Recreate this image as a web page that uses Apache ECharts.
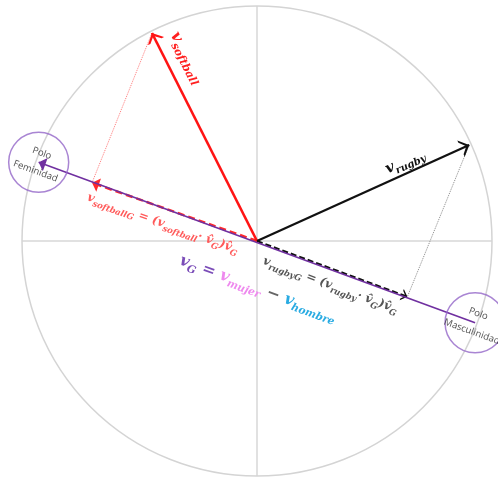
<!DOCTYPE html>
<html><head><meta charset="utf-8">
<script src="https://cdn.jsdelivr.net/npm/echarts@6/dist/echarts.min.js"></script>
<style>html,body{margin:0;padding:0;background:#fff}#c{width:498px;height:479px}</style>
</head><body><div id="c"></div>
<script>
// ---- data (unit circle coordinates) ----
const origin = [0, 0];
const vectorNames = ['softball', 'rugby'];
const vectorTips = [[-0.447, 0.885], [0.903, 0.409]];
const projectionTips = [[-0.702, 0.248], [0.640, -0.237]];
const poleLabels = ['Polo\nFeminidad', 'Polo\nMasculinidad'];
const polePoints = [[-0.929, 0.335], [0.928, -0.348]];
const axisAngles = [0, 90, 180, 270, 360];

// ---- styling ----
const SERIF = 'DejaVu Serif';
const chevron = 'path://M10,10 L20,20 L17,20 L10,13.6 L3,20 L0,20 Z M10,0 L10.1,0.1 L9.9,0.1 Z';
const filledTri = 'path://M10,10 L17,20 L3,20 Z M10,0 L10.1,0.1 L9.9,0.1 Z';

function mainStyle(size, color, extra) {
  return Object.assign({ fontFamily: SERIF, fontStyle: 'italic', fontWeight: 'bold', fontSize: size, lineHeight: size, color: color, verticalAlign: 'top' }, extra || {});
}
function subStyle(size, mainSize, color, extra) {
  return Object.assign({ fontFamily: SERIF, fontStyle: 'italic', fontWeight: 'bold', fontSize: size, lineHeight: size, color: color, verticalAlign: 'top', padding: [Math.round(mainSize * 0.5), 0, 0, 0] }, extra || {});
}
const rich = {
  rv: mainStyle(16, '#ff2020'), rs: subStyle(11, 16, '#ff2020'),
  kv: mainStyle(15, '#111111'), ks: subStyle(10, 15, '#111111'),
  pv: mainStyle(12, '#ff5a5a'), ps: subStyle(8.5, 12, '#ff5a5a'),
  pe: subStyle(8.5, 12, '#ff5a5a', { padding: [6, 14, 0, 0] }),
  qv: mainStyle(12, '#555555'), qs: subStyle(8.5, 12, '#555555'),
  qb: mainStyle(12, '#555555', { padding: [0, 0, 0, 8] }),
  gv: mainStyle(16, '#7b4db8'), gs: subStyle(10.5, 16, '#7b4db8'),
  g0: mainStyle(16, '#7b4db8', { padding: [0, 0, 0, 34] }),
  mv: mainStyle(16, '#ee88ee'), ms: subStyle(10.5, 16, '#ee88ee'),
  hv: mainStyle(16, '#29abe2'), hs: subStyle(10.5, 16, '#29abe2'),
  op: mainStyle(16, '#666666')
};

const vecColors = ['#ff1414', '#111111'];
const vecLabels = [
  '{rv|v}{rs|' + vectorNames[0] + '}',
  '{kv|v}{ks|' + vectorNames[1] + '}'
];
const vecLabelDist = [[10, 12], [45, 4]];
const projLabels = [
  '{pv|v}{ps|' + vectorNames[0] + 'G}{pv| = (v}{ps|' + vectorNames[0] + '}{pv|· v̂}{ps|G}{pv|)v̂}{pe|G}',
  '{qb|v}{qs|' + vectorNames[1] + 'G}{qv| = (v}{qs|' + vectorNames[1] + '}{qv|· v̂}{qs|G}{qv|)v̂}{qs|G}'
];

const chart = echarts.init(document.getElementById('c'), null, { renderer: 'canvas' });

const option = {
  animation: false,
  backgroundColor: '#ffffff',
  grid: { left: 22, top: 6, width: 470, height: 470 },
  xAxis: { type: 'value', min: -1, max: 1, show: false },
  yAxis: { type: 'value', min: -1, max: 1, show: false },
  polar: { center: [257, 241], radius: 235 },
  angleAxis: {
    type: 'value', min: axisAngles[0], max: axisAngles[axisAngles.length - 1], interval: 90, startAngle: 0,
    axisLine: { lineStyle: { color: '#d4d4d4', width: 1.5 } },
    axisTick: { show: false }, axisLabel: { show: false },
    splitLine: { show: true, lineStyle: { color: '#d8d8d8', width: 1.5 } },
    splitArea: { show: false }
  },
  radiusAxis: { type: 'value', min: 0, max: 1, show: false },
  series: [
    {
      type: 'lines', coordinateSystem: 'cartesian2d', silent: true, z: 2,
      symbol: ['none', 'none'],
      data: vectorTips.map((t, i) => ({
        coords: [t, projectionTips[i]],
        lineStyle: { color: i === 0 ? '#ff7a7a' : '#8a8a8a', width: 1, type: 'dotted', opacity: 1 }
      }))
    },
    {
      type: 'lines', coordinateSystem: 'cartesian2d', silent: true, z: 3,
      symbol: ['none', filledTri], symbolSize: [0, 14],
      lineStyle: { color: '#ff2a2a', width: 2.5, type: [7, 4], opacity: 1 },
      label: { show: true, position: 'insideMiddleBottom', distance: [0, 9], rich: rich, formatter: projLabels[0] },
      data: [{ coords: [origin, projectionTips[0]] }]
    },
    {
      type: 'lines', coordinateSystem: 'cartesian2d', silent: true, z: 3,
      symbol: ['none', chevron], symbolSize: [0, 12],
      lineStyle: { color: '#111111', width: 2, type: [6, 3], opacity: 1 },
      label: { show: true, position: 'insideMiddleBottom', distance: [0, 10], rich: rich, formatter: projLabels[1] },
      data: [{ coords: [origin, projectionTips[1]] }]
    },
    {
      type: 'lines', coordinateSystem: 'cartesian2d', silent: true, z: 4,
      symbol: ['none', filledTri], symbolSize: [0, 14],
      lineStyle: { color: '#7030a0', width: 1.6, opacity: 1 },
      label: {
        show: true, position: 'insideMiddleBottom', distance: [0, 35], rich: rich,
        formatter: '{g0|v}{gs|G}{gv| = }{mv|v}{ms|mujer}{op| − }{hv|v}{hs|hombre}'
      },
      data: [{ coords: [polePoints[1], polePoints[0]] }]
    },
    {
      type: 'lines', coordinateSystem: 'cartesian2d', silent: true, z: 5,
      symbol: ['none', chevron], symbolSize: [0, 18],
      data: vectorTips.map((t, i) => ({
        coords: [origin, t],
        lineStyle: { color: vecColors[i], width: i === 0 ? 2.6 : 2.2, opacity: 1 },
        label: { show: true, position: 'insideEndTop', distance: vecLabelDist[i], rich: rich, formatter: vecLabels[i] }
      }))
    },
    {
      type: 'scatter', coordinateSystem: 'cartesian2d', silent: true, z: 6,
      symbol: 'circle', symbolSize: 60,
      itemStyle: { color: 'rgba(255,255,255,0)', borderColor: '#9466c8', borderWidth: 1.5 },
      label: {
        show: true, position: 'inside', rotate: -20, color: '#222222',
        fontFamily: 'Open Sans', fontSize: 9.5, lineHeight: 19,
        formatter: p => poleLabels[p.dataIndex]
      },
      data: polePoints
    }
  ]
};
chart.setOption(option);
</script>
</body></html>
